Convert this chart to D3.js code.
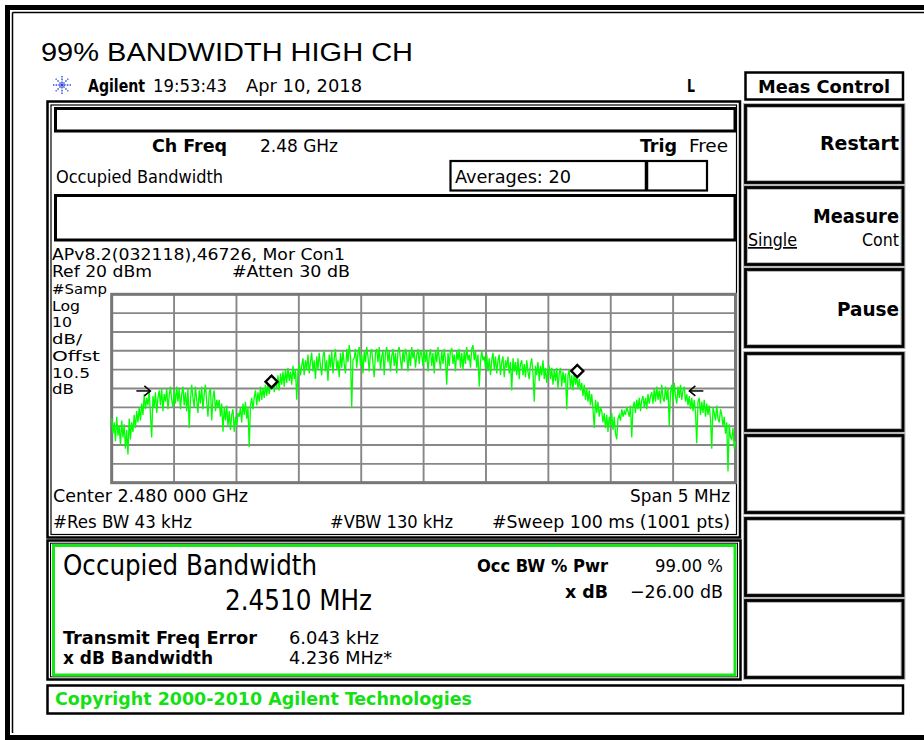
<!DOCTYPE html>
<html><head><meta charset="utf-8">
<script src="https://cdn.jsdelivr.net/npm/d3@7"></script>
<style>
html,body{margin:0;padding:0;background:#fff;}
svg{display:block;}
.inst{font-family:"DejaVu Sans Condensed","DejaVu Sans","Liberation Sans Narrow",sans-serif;}
</style></head>
<body>
<svg id="c" width="924" height="740"></svg>
<script>
// ---------------- data ----------------
const titleText = "99% BANDWIDTH HIGH CH";
const centerGHz = 2.480;
const spanMHz = 5;
const refLevelDbm = 20;
const dbPerDiv = 10;
const divisions = 10;
// 500 sweep samples (dBm), left to right
const traceDbm = [
 -46,-54,-48,-58,-45,-55,-50,-60,-47,-56,-49,-62,-52,-65,-46,-57,-48,-53,
 -44,-51,-42,-48,-40,-47,-38,-44,
 -33,-41,-35,-39,-31,-44,-56,-34,-40,-32,-43,-35,-31,-39,-30,-42,-33,-37,-30,-41,-34,-29,-36,-40,
 -31,-38,-29,-37,-30,-41,-33,-29,-39,-32,-42,-30,-51,-36,-28,-35,-40,-29,-36,-43,-31,-38,-29,-41,-33,-28,-37,-45,-32,-30,-47,-35,-31,-42,-36,-40,
 -36,-45,-38,-53,-40,-47,-39,-50,-42,-52,-44,-41,-53,-45,-50,-43,
 -45,-40,-48,-38,-44,-37,-46,-40,-61,-39,-35,-41,
 -35,-31,-39,-32,-37,-29,-36,-30,-35,-28,-34,-27,-33,-29,
 -28,-24,-32,-25,-30,-23,-31,-22,-28,-21,-29,-20,-27,-19,-26,-21,-28,-18,-25,-20,-36,-21,-17,-23,
 -18,-14,-23,-15,-20,-12,-22,-16,-11,-21,-15,-25,-13,-20,-11,-18,-23,-13,-10,-21,-15,-26,-12,-19,-10,-22,-14,-9,-20,-15,-24,-11,-19,-10,-17,-22,-9,-16,-7,-13,-40,-15,
 -14,-9,-19,-11,-8,-18,-12,-22,-10,-16,-8,-13,-21,-11,-9,-17,-24,-11,-9,-16,-8,-20,-13,-10,-23,-11,-8,-16,-10,-21,-13,-9,-18,-11,-22,-10,-8,-15,-20,-10,-16,-9,-12,-21,-10,-18,-8,-14,-10,-19,-12,-9,-17,-10,
 -12,-18,-9,-16,-10,-21,-13,-9,-18,-11,-22,-10,-16,-8,-14,-20,-10,-17,-9,-15,-28,-11,-18,-10,-9,-17,-12,-21,-10,-15,-9,-19,-11,-20,-10,-17,-8,-15,-12,-19,-9,-7,-15,-10,-19,-12,-29,-16,-10,-15,
 -13,-19,-12,-21,-14,-23,-15,-11,-20,-13,-22,-15,-12,-23,-16,-13,-24,-15,-19,-13,-22,-16,-31,-14,-21,-16,-23,-14,-25,-17,-15,-23,-17,-24,-15,-21,-25,-17,-14,-22,-37,-18,-23,-16,-26,-18,-23,-15,-25,-19,-27,-20,
 -18,-25,-19,-28,-20,-26,-19,-30,-22,-19,-29,-21,-27,-22,-41,-23,-20,-30,-23,-31,-21,-28,-23,-30,
 -25,-31,-27,-34,-28,-36,-30,-37,-31,-39,-33,-41,-51,-36,-43,-37,-45,-40,
 -42,-48,-43,-51,-44,-53,-45,-50,-43,-52,-45,-54,-57,-46,-44,-47,
 -41,-45,-42,-44,-40,-42,-45,-39,-56,-40,-37,-43,-36,-41,-35,-42,-36,-34,-40,-35,-41,-33,-38,-34,-32,-38,
 -30,-37,-29,-36,-31,-38,-28,-35,-37,-29,-36,-30,-50,-32,-28,-37,-27,-34,-38,-29,-35,-28,-36,-31,-29,-37,
 -33,-39,-34,-41,-35,-42,-36,-43,-59,-37,-35,-44,-37,-43,-36,-45,-38,-44,-39,-46,-62,-40,-43,-47,-39,-46,-48,-41,
 -44,-50,-45,-54,-48,-74,-49,-56,-57,-51,-62,-58
];
// occupied-bandwidth markers (MHz offset from center, dBm)
const obwMarkerMHz = [-1.219, 1.232];
const obwMarkerDbm = [-26.4, -20.7];
// x dB bandwidth arrows (MHz offset, dBm)
const xdbArrowMHz = [-2.19, 2.13];
const xdbArrowDbm = -31.3;

const leftLabels = ["#Samp","Log","10","dB/","Offst","10.5","dB"];

// ---------------- drawing ----------------
const svg = d3.select("#c");
const W = 924, H = 740;

const x = d3.scaleLinear().domain([-spanMHz/2, spanMHz/2]).range([111.7, 735.5]);
const y = d3.scaleLinear().domain([refLevelDbm - dbPerDiv*divisions, refLevelDbm]).range([482.7, 294.3]);

function box(x0,y0,x1,y1,sw,col,fill){
  return svg.append("rect").attr("x",x0).attr("y",y0).attr("width",x1-x0).attr("height",y1-y0)
   .attr("fill",fill||"none").attr("stroke",col||"#000").attr("stroke-width",sw);
}
function txt(s,x0,yb,w,size,opt){
  opt = opt||{};
  const t = svg.append("text").attr("x",x0).attr("y",yb).text(s)
    .attr("font-size",size).attr("fill",opt.fill||"#000")
    .attr("class",opt.cls===undefined?"inst":opt.cls);
  if(opt.bold) t.attr("font-weight","bold");
  if(opt.anchor) t.attr("text-anchor",opt.anchor);
  if(w) t.attr("textLength",w).attr("lengthAdjust","spacingAndGlyphs");
  if(opt.ff) t.attr("font-family",opt.ff);
  return t;
}

// outer frame
svg.append("rect").attr("x",0).attr("y",0).attr("width",W).attr("height",H).attr("fill","#fff");
svg.append("rect").attr("x",5).attr("y",5).attr("width",W).attr("height",5).attr("fill","#000");
svg.append("rect").attr("x",5).attr("y",5).attr("width",5).attr("height",735).attr("fill","#000");
svg.append("rect").attr("x",5).attr("y",735).attr("width",W).attr("height",5).attr("fill","#000");
svg.append("line").attr("x1",12.5).attr("y1",12.5).attr("x2",W).attr("y2",12.5).attr("stroke","#000").attr("stroke-width",1.5);
svg.append("line").attr("x1",12.5).attr("y1",12.5).attr("x2",12.5).attr("y2",733).attr("stroke","#000").attr("stroke-width",1.5);

// title
txt(titleText, 41, 61, 372, 26, {cls:"", ff:"'Liberation Sans', Arial, sans-serif"});

// header line
const ic = svg.append("g").attr("transform","translate(62,85)");
d3.range(8).forEach(i=>{
  const a = i*Math.PI/4;
  ic.append("line").attr("x1",Math.cos(a)*2).attr("y1",Math.sin(a)*2)
    .attr("x2",Math.cos(a)*9).attr("y2",Math.sin(a)*9)
    .attr("stroke","#3246e0").attr("stroke-width",1.4).attr("stroke-dasharray","1.6,1.2");
});
ic.append("circle").attr("r",1.8).attr("fill","#3246e0");
txt("Agilent", 88, 92, 57, 17, {bold:true});
txt("19:53:43", 153, 92, 74, 17);
txt("Apr 10, 2018", 246, 92, 116, 17);
txt("L", 687, 92, 8, 18, {bold:true});

// softkey column
box(745.5,72.5,903,99.5,2.5);
txt("Meas Control", 824, 93, 132, 18, {bold:true, anchor:"middle"});
const skTop = [105,187,269,353,435,518,600];
skTop.forEach(t=>{
  box(745.5,t+0.5,903,t+77.5,5,"#b8b8b8");
  box(745.5,t+0.5,903,t+77.5,2.8,"#000");
});
txt("Restart", 899, 150, 79, 19, {bold:true, anchor:"end"});
txt("Measure", 899, 223, 86, 19, {bold:true, anchor:"end"});
txt("Single", 748, 246, 49, 17).attr("text-decoration","underline");
txt("Cont", 899, 246, 37, 17, {anchor:"end"});
txt("Pause", 899, 316, 62, 19, {bold:true, anchor:"end"});

// main panel
box(47.5,101.5,740,537.5,2.5);
box(51,105,736.5,534.5,1.2);
box(55.5,108.5,735,131,3);
txt("Ch Freq", 152, 152, 75, 18, {bold:true});
txt("2.48 GHz", 260, 152, 78, 18);
txt("Trig", 640, 152, 37, 18, {bold:true});
txt("Free", 689, 152, 39, 18);
txt("Occupied Bandwidth", 56, 183, 167, 18);
box(450.5,161,707,190.5,2.2);
svg.append("line").attr("x1",646.5).attr("y1",161).attr("x2",646.5).attr("y2",190.5).attr("stroke","#000").attr("stroke-width",3.5);
txt("Averages: 20", 455, 183, 116, 18);
box(55.5,195.5,735,240,3);
txt("APv8.2(032118),46726, Mor Con1", 52, 260, 293, 15.5);
txt("Ref 20 dBm", 52, 277, 100, 15.5);
txt("#Atten 30 dB", 232, 277, 118, 15.5);

const llW = [55,28,20,30,48,38,22];
leftLabels.forEach((s,i)=>{
  txt(s, 52, 294 + i*16.7, llW[i], 14);
});

// grid
const gx = d3.range(divisions+1).map(i => -spanMHz/2 + i*spanMHz/divisions);
const gy = d3.range(divisions+1).map(i => refLevelDbm - i*dbPerDiv);
const grid = svg.append("g");
grid.selectAll("line.v").data(gx).join("line")
  .attr("x1",d=>x(d)).attr("x2",d=>x(d)).attr("y1",y.range()[1]).attr("y2",y.range()[0])
  .attr("stroke","#878787").attr("stroke-width",1.9);
grid.selectAll("line.h").data(gy).join("line")
  .attr("y1",d=>y(d)).attr("y2",d=>y(d)).attr("x1",x.range()[0]).attr("x2",x.range()[1])
  .attr("stroke","#878787").attr("stroke-width",1.9);
grid.append("rect").attr("x",x.range()[0]).attr("y",y.range()[1])
  .attr("width",x.range()[1]-x.range()[0]).attr("height",y.range()[0]-y.range()[1])
  .attr("fill","none").attr("stroke","#777").attr("stroke-width",3);

// trace
const n = traceDbm.length;
const pts = traceDbm.map((v,i)=>[-spanMHz/2 + i*spanMHz/(n-1), v]);
svg.append("path").datum(pts)
  .attr("d", d3.line().x(d=>x(d[0])).y(d=>y(d[1])))
  .attr("fill","none").attr("stroke","#00ff00").attr("stroke-width",1.3).attr("stroke-linejoin","miter");

// OBW diamond markers
obwMarkerMHz.forEach((f,i)=>{
  const cx = x(f), cy = y(obwMarkerDbm[i]), r = 6;
  svg.append("path").attr("d",`M${cx},${cy-r}L${cx+r},${cy}L${cx},${cy+r}L${cx-r},${cy}Z`)
    .attr("fill","#fff").attr("stroke","#000").attr("stroke-width",2.4);
});
// x dB arrows
xdbArrowMHz.forEach((f,i)=>{
  const tx = x(f), ty = y(xdbArrowDbm);
  const dir = i===0 ? -1 : 1;
  const g = svg.append("g").attr("stroke","#000").attr("stroke-width",1.5).attr("fill","none");
  g.append("line").attr("x1",tx).attr("y1",ty).attr("x2",tx+dir*14).attr("y2",ty);
  g.append("path").attr("d",`M${tx+dir*6},${ty-5}L${tx},${ty}L${tx+dir*6},${ty+5}`);
});

txt("Center 2.480 000 GHz", 53, 502, 195, 18);
txt("Span 5 MHz", 630, 502, 100, 18);
txt("#Res BW 43 kHz", 53, 528, 139, 18);
txt("#VBW 130 kHz", 330, 528, 123, 18);
txt("#Sweep 100 ms (1001 pts)", 492, 528, 238, 18);

// results panel
box(47.5,540.5,740.5,679.5,2.5);
box(50.5,543.2,737.5,676.8,1);
box(53.5,545.5,735,675,3,"#19e619");
txt("Occupied Bandwidth", 63, 575, 254, 28);
txt("2.4510 MHz", 225, 610, 147, 29);
txt("Occ BW % Pwr", 477, 572, 131, 18, {bold:true});
txt("99.00 %", 655, 572, 68, 18);
txt("x dB", 565, 598, 43, 18, {bold:true});
txt("\u221226.00 dB", 630, 598, 93, 18);
txt("Transmit Freq Error", 63, 644, 194, 18, {bold:true});
txt("6.043 kHz", 289, 644, 90, 18);
txt("x dB Bandwidth", 63, 664, 150, 18, {bold:true});
txt("4.236 MHz*", 289, 664, 103, 18);

// copyright
box(47.5,685.5,903,713.5,2.5);
txt("Copyright 2000-2010 Agilent Technologies", 55, 705, 417, 18, {bold:true, fill:"#14e014"});
</script>
</body></html>
